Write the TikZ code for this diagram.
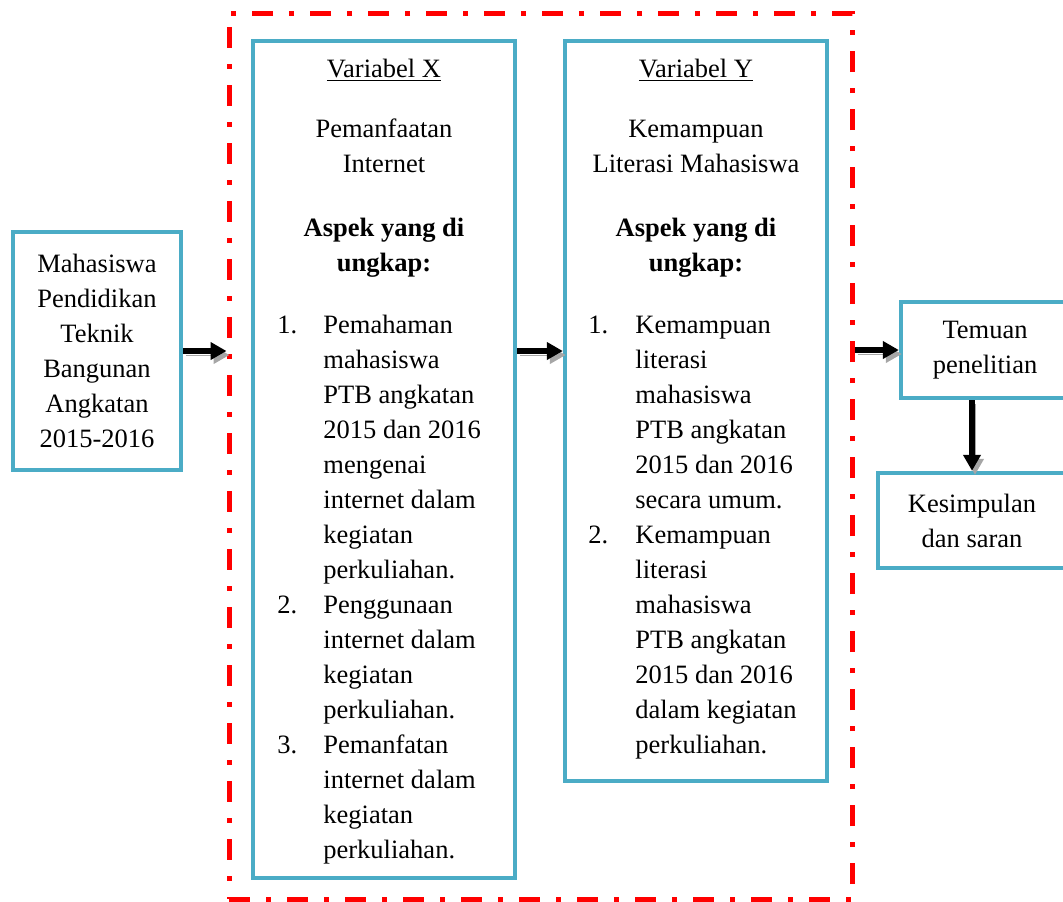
\documentclass[tikz,border=0pt]{standalone}
\usepackage{fontspec}
\setmainfont{Liberation Serif}
\usetikzlibrary{arrows.meta}
\definecolor{kotakbiru}{HTML}{4BACC6}

\begin{document}
\begin{tikzpicture}[x=0.5pt, y=-0.5pt,
    every node/.style={font=\fontsize{13.25}{17.5}\selectfont, inner sep=0pt},
    kotak/.style={draw=kotakbiru, line width=2.2pt, rectangle},
    bingkai/.style={draw=red, line width=2.5pt, rectangle,
        dash pattern=on 10.5pt off 8pt on 2.5pt off 8pt},
    panah/.style={line width=3pt, -{Triangle[length=8pt, width=8.5pt]},
        preaction={draw=gray!70, transform canvas={shift={(1.5pt,-2pt)}}}}]
    \useasboundingbox (0,0) rectangle (1063,901);

    % --- 1. koordinat ---
    \coordinate (C_mhs)   at (97, 351);
    \coordinate (C_frame) at (540.5, 456);
    \coordinate (C_x)     at (384, 459.5);
    \coordinate (C_y)     at (696, 411);
    \coordinate (C_tem)   at (985, 350);
    \coordinate (C_kes)   at (972, 520.5);

    % --- 2. kotak ---
    \node[bingkai, minimum width=311.5pt, minimum height=443pt] (frame) at (C_frame) {};
    \node[kotak, minimum width=84pt, minimum height=119pt, align=center] (mhs) at (C_mhs)
        {Mahasiswa\\Pendidikan\\Teknik\\Bangunan\\Angkatan\\2015-2016};
    \node[kotak, minimum width=131pt, minimum height=418.5pt] (varx) at (C_x) {};
    \node[kotak, minimum width=131pt, minimum height=370pt] (vary) at (C_y) {};
    \node[kotak, minimum width=84pt, minimum height=48pt, align=center] (temuan) at (C_tem)
        {Temuan\\penelitian};
    \node[kotak, minimum width=94pt, minimum height=47.5pt, align=center] (kes) at (C_kes)
        {Kesimpulan\\dan saran};

    % --- 3. isi variabel X ---
    \node[anchor=base] (xjudul) at (384, 77) {\underline{Variabel X}};
    \node[anchor=base] (xnama) at (384, 137)
        {\begin{tabular}[t]{@{}c@{}}Pemanfaatan\\Internet\end{tabular}};
    \node[anchor=base] (xaspek) at (384, 236)
        {\bfseries\begin{tabular}[t]{@{}c@{}}Aspek yang di\\ungkap:\end{tabular}};
    \node[anchor=base west] (xdaftar) at (277, 333)
        {\begin{tabular}[t]{@{}p{23pt}@{}l@{}}
        1. & Pemahaman\\ & mahasiswa\\ & PTB angkatan\\ & 2015 dan 2016\\
           & mengenai\\ & internet dalam\\ & kegiatan\\ & perkuliahan.\\
        2. & Penggunaan\\ & internet dalam\\ & kegiatan\\ & perkuliahan.\\
        3. & Pemanfatan\\ & internet dalam\\ & kegiatan\\ & perkuliahan.
        \end{tabular}};

    % --- 4. isi variabel Y ---
    \node[anchor=base] (yjudul) at (696, 77) {\underline{Variabel Y}};
    \node[anchor=base] (ynama) at (696, 137)
        {\begin{tabular}[t]{@{}c@{}}Kemampuan\\Literasi Mahasiswa\end{tabular}};
    \node[anchor=base] (yaspek) at (696, 236)
        {\bfseries\begin{tabular}[t]{@{}c@{}}Aspek yang di\\ungkap:\end{tabular}};
    \node[anchor=base west] (ydaftar) at (588, 333)
        {\begin{tabular}[t]{@{}p{23.5pt}@{}l@{}}
        1. & Kemampuan\\ & literasi\\ & mahasiswa\\ & PTB angkatan\\
           & 2015 dan 2016\\ & secara umum.\\
        2. & Kemampuan\\ & literasi\\ & mahasiswa\\ & PTB angkatan\\
           & 2015 dan 2016\\ & dalam kegiatan\\ & perkuliahan.
        \end{tabular}};

    % --- 5. panah ---
    \draw[panah] (mhs.east) -- (mhs.east -| frame.west);
    \draw[panah] (mhs.east -| varx.east) -- (mhs.east -| vary.west);
    \draw[panah] (temuan.west -| frame.east) -- (temuan.west);
    \draw[panah] (kes.north |- temuan.south) -- (kes.north);
\end{tikzpicture}
\end{document}
